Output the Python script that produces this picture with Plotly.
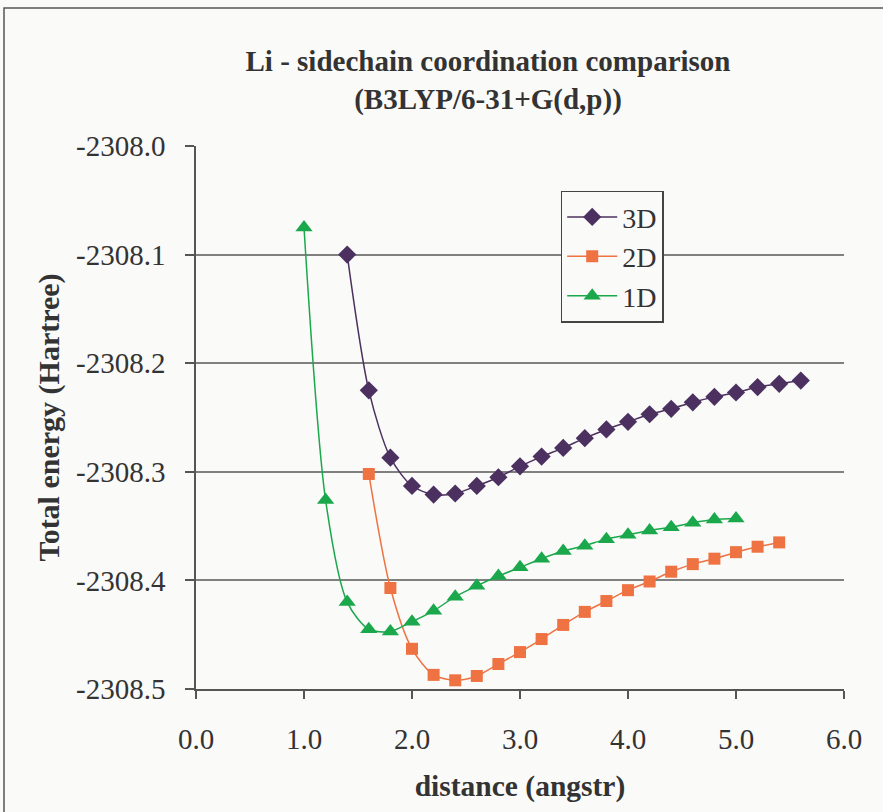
import plotly.graph_objects as go

# ---- data ----
x_3d = [1.4, 1.6, 1.8, 2.0, 2.2, 2.4, 2.6, 2.8, 3.0, 3.2, 3.4, 3.6, 3.8, 4.0, 4.2, 4.4, 4.6, 4.8, 5.0, 5.2, 5.4, 5.6]
e_3d = [-2308.100, -2308.225, -2308.287, -2308.313, -2308.321, -2308.320, -2308.313, -2308.305,
        -2308.295, -2308.286, -2308.278, -2308.269, -2308.261, -2308.254, -2308.247, -2308.242,
        -2308.236, -2308.231, -2308.227, -2308.222, -2308.219, -2308.216]

x_2d = [1.6, 1.8, 2.0, 2.2, 2.4, 2.6, 2.8, 3.0, 3.2, 3.4, 3.6, 3.8, 4.0, 4.2, 4.4, 4.6, 4.8, 5.0, 5.2, 5.4]
e_2d = [-2308.302, -2308.407, -2308.463, -2308.487, -2308.492, -2308.488, -2308.477, -2308.466,
        -2308.454, -2308.441, -2308.429, -2308.419, -2308.409, -2308.401, -2308.392, -2308.385,
        -2308.380, -2308.374, -2308.369, -2308.365]

x_1d = [1.0, 1.2, 1.4, 1.6, 1.8, 2.0, 2.2, 2.4, 2.6, 2.8, 3.0, 3.2, 3.4, 3.6, 3.8, 4.0, 4.2, 4.4, 4.6, 4.8, 5.0]
e_1d = [-2308.075, -2308.326, -2308.420, -2308.445, -2308.447, -2308.438, -2308.428, -2308.415,
        -2308.405, -2308.396, -2308.388, -2308.380, -2308.373, -2308.368, -2308.362, -2308.358,
        -2308.354, -2308.351, -2308.347, -2308.344, -2308.343]

x_tickvals = [0, 1, 2, 3, 4, 5, 6]
x_ticktext = ["0.0", "1.0", "2.0", "3.0", "4.0", "5.0", "6.0"]
y_tickvals = [-2308.5, -2308.4, -2308.3, -2308.2, -2308.1, -2308.0]
y_ticktext = ["-2308.5", "-2308.4", "-2308.3", "-2308.2", "-2308.1", "-2308.0"]

# ---- style ----
C3 = "#4B3060"
C2 = "#EF7242"
C1 = "#1BA84C"
BG = "#FAFAF8"
SERIF = "Liberation Serif, Times New Roman, serif"

W, H = 883, 812
ML, MR, MT, MB = 196, 39, 146, 123
PW, PH = W - ML - MR, H - MT - MB

fig = go.Figure()
fig.add_trace(go.Scatter(x=x_3d, y=e_3d, name="3D", mode="lines+markers",
                         line=dict(color=C3, width=1.5, shape="spline", smoothing=0.8),
                         marker=dict(symbol="diamond", size=14, color=C3)))
fig.add_trace(go.Scatter(x=x_2d, y=e_2d, name="2D", mode="lines+markers",
                         line=dict(color=C2, width=1.5, shape="spline", smoothing=0.8),
                         marker=dict(symbol="square", size=12, color=C2)))
fig.add_trace(go.Scatter(x=x_1d, y=e_1d, name="1D", mode="lines+markers",
                         line=dict(color=C1, width=1.5, shape="spline", smoothing=0.8),
                         marker=dict(symbol="triangle-up", size=15, color=C1)))

fig.update_layout(
    width=W, height=H, autosize=False,
    margin=dict(l=ML, r=MR, t=MT, b=MB, pad=0),
    paper_bgcolor=BG, plot_bgcolor=BG,
    font=dict(family=SERIF, color="#333333", size=28),
    title=dict(text="<b>Li - sidechain coordination comparison</b><br><b>(B3LYP/6-31+G(d,p))</b>",
               x=488 / W, xanchor="center",
               y=1 - 71 / H, yanchor="middle", yref="container",
               font=dict(family=SERIF, size=29, color="#333333")),
    xaxis=dict(range=[0, 6], tickvals=x_tickvals, ticktext=x_ticktext,
               showgrid=False, zeroline=False,
               showline=True, linecolor="#555555", linewidth=1.5,
               ticks="outside", ticklen=8, tickcolor="#555555", tickwidth=1.5,
               tickfont=dict(size=29), ticklabelstandoff=15,
               title=dict(text="<b>distance (angstr)</b>", font=dict(size=29.5), standoff=22)),
    yaxis=dict(range=[-2308.5, -2308.0], tickvals=y_tickvals, ticktext=y_ticktext,
               showgrid=True, gridcolor="#808080", gridwidth=1.5, zeroline=False,
               showline=True, linecolor="#555555", linewidth=1.5,
               ticks="outside", ticklen=9, tickcolor="#555555", tickwidth=1.5,
               tickfont=dict(size=29), ticklabelstandoff=14,
               title=dict(text="<b>Total energy (Hartree)</b>", font=dict(size=30), standoff=8)),
    legend=dict(x=(560.7 - ML) / PW, y=(MT + PH - 190.7) / PH, xanchor="left", yanchor="top",
                bgcolor=BG, bordercolor="#444444", borderwidth=1.5,
                font=dict(family=SERIF, size=28, color="#333333"), itemwidth=50,
                tracegroupgap=0),
    showlegend=True,
    shapes=[dict(type="rect", xref="paper", yref="paper",
                 x0=(4 - ML) / PW, x1=(W + 20 - ML) / PW,
                 y0=(MT + PH - H - 20) / PH, y1=(MT + PH - 8) / PH,
                 line=dict(color="#555555", width=1.5), fillcolor="rgba(0,0,0,0)", layer="below")],
)

fig.write_html("out.html", config={"displayModeBar": False},
               post_script="document.body.style.margin='0';document.body.style.background='#FAFAF8';")
